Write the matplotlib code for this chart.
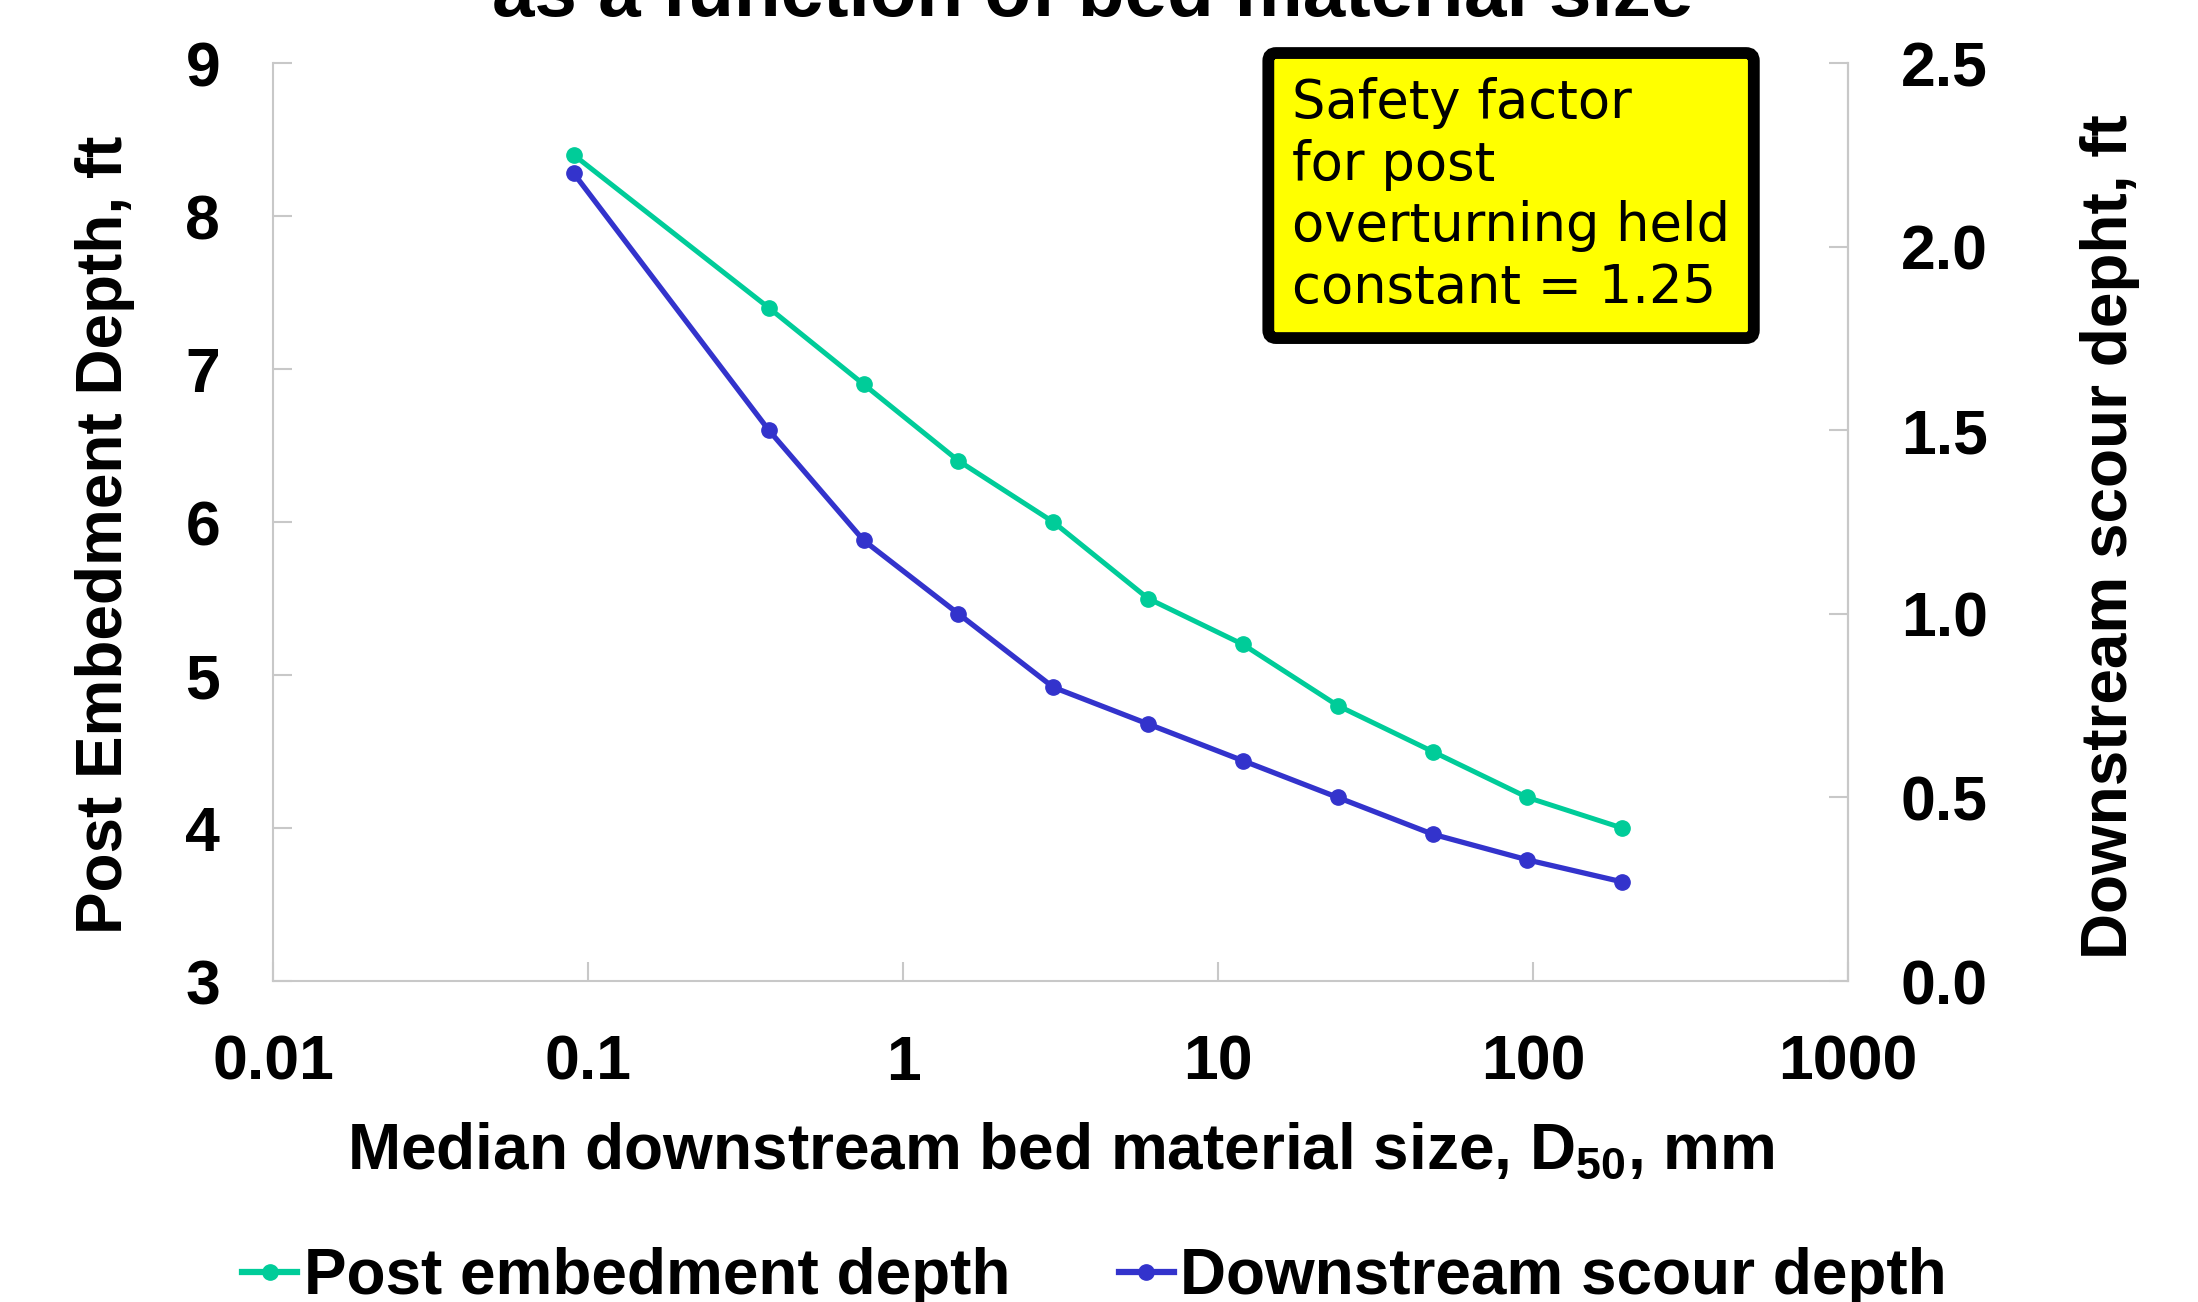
import matplotlib.pyplot as plt
from matplotlib.ticker import FixedLocator, FixedFormatter

plt.rcParams["font.family"] = ["Liberation Sans", "DejaVu Sans"]
plt.rcParams["font.weight"] = "bold"
plt.rcParams["mathtext.fontset"] = "custom"
plt.rcParams["mathtext.rm"] = "Liberation Sans:bold"
plt.rcParams["mathtext.bf"] = "Liberation Sans:bold"

# data
d50_mm = [0.09, 0.375, 0.75, 1.5, 3, 6, 12, 24, 48, 96, 192]
embed_depth_ft = [8.4, 7.4, 6.9, 6.4, 6.0, 5.5, 5.2, 4.8, 4.5, 4.2, 4.0]
scour_depth_ft = [2.2, 1.5, 1.2, 1.0, 0.8, 0.7, 0.6, 0.5, 0.4, 0.33, 0.27]

x_ticks = [0.01, 0.1, 1, 10, 100, 1000]
x_tick_labels = ["0.01", "0.1", "1", "10", "100", "1000"]
left_ticks = [3, 4, 5, 6, 7, 8, 9]
right_ticks = [0.0, 0.5, 1.0, 1.5, 2.0, 2.5]

GREEN = "#00cc99"
BLUE = "#3333cc"
GRAY = "#c8c8c8"
FS = 45
LFS = 46

fig = plt.figure(figsize=(21.98, 13.02), dpi=100)
ax = fig.add_axes([0.1242, 0.2465, 0.7166, 0.7051])
ax2 = ax.twinx()

l1, = ax.plot(d50_mm, embed_depth_ft, color=GREEN, lw=3.6, marker="o",
              ms=11, label="Post embedment depth")
l2, = ax2.plot(d50_mm, scour_depth_ft, color=BLUE, lw=3.8, marker="o",
               ms=11, label="Downstream scour depth")

ax.set_xscale("log")
ax.set_xlim(0.01, 1000)
ax.set_ylim(3, 9)
ax2.set_ylim(0, 2.5)

ax.xaxis.set_major_locator(FixedLocator(x_ticks))
ax.xaxis.set_major_formatter(FixedFormatter(x_tick_labels))
ax.xaxis.set_minor_locator(FixedLocator([]))
ax.set_yticks(left_ticks)
ax2.set_yticks(right_ticks)
ax2.set_yticklabels([f"{v:.1f}" for v in right_ticks])

for a in (ax, ax2):
    a.spines["top"].set_visible(False)
    for s in a.spines.values():
        s.set_color(GRAY)
        s.set_linewidth(1.5)
    a.tick_params(direction="in", length=13.5, width=1.5, color=GRAY,
                  labelsize=FS, pad=38)
ax2.spines["left"].set_visible(False)
ax2.spines["bottom"].set_visible(False)

ax.set_xlabel("Median downstream bed material size, D$_{50}$, mm",
              fontsize=LFS, fontweight="bold", labelpad=20)
ax.set_ylabel("Post Embedment Depth, ft", fontsize=LFS, fontweight="bold",
              labelpad=36)
ax2.set_ylabel("Downstream scour depht, ft", fontsize=LFS, fontweight="bold",
               rotation=90, labelpad=66)
ax.yaxis.label.set_y(0.486)
ax2.yaxis.label.set_y(0.484)

ax.text(0.647, 0.985, "Safety factor\nfor post\noverturning held\nconstant = 1.25",
        transform=ax.transAxes, ha="left", va="top", fontsize=38,
        fontweight="normal", family=["DejaVu Sans"], linespacing=1.24,
        bbox=dict(boxstyle="round,pad=0.45,rounding_size=0.15",
                  facecolor="#ffff00", edgecolor="black", linewidth=8.5))

fig.text(0.497, 1 - 16 / 1302, "as a function of bed material size",
         ha="center", va="baseline", fontsize=55, fontweight="bold")

leg = fig.legend(handles=[l1, l2], loc="center", bbox_to_anchor=(0.498, 0.019),
                 ncol=2, frameon=False, fontsize=LFS, handlelength=0.86,
                 handletextpad=0.1, columnspacing=1.7)
for h in leg.legend_handles:
    h.set_linewidth(4.5)

fig.savefig("out.png", dpi=100)
plt.close(fig)
